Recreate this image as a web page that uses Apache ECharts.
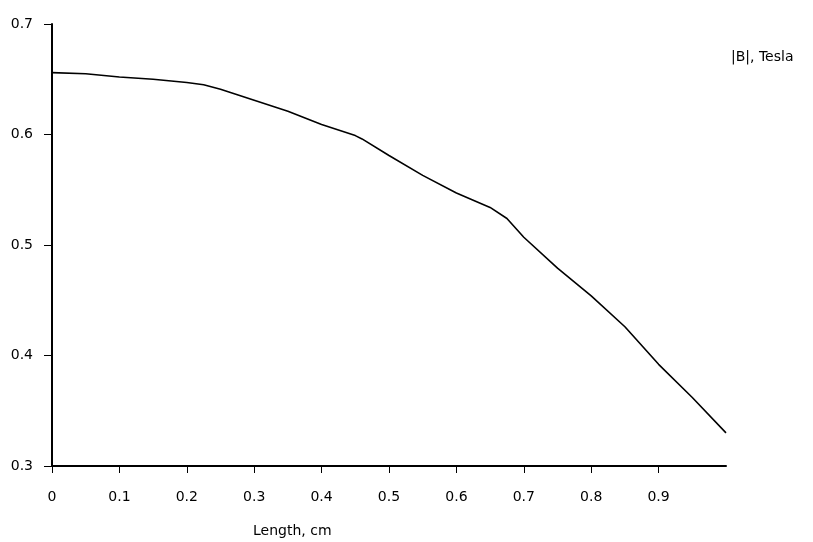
<!DOCTYPE html>
<html>
<head>
    <meta charset="utf-8">
    <script src="https://cdn.jsdelivr.net/npm/echarts@6/dist/echarts.min.js"></script>
    <style>
        html, body { margin: 0; padding: 0; background: #ffffff; }
        #chart { width: 813px; height: 542px; }
    </style>
</head>
<body>
    <div id="chart"></div>
    <script>
        // |B| along the length
        var lengthCm = [0, 0.05, 0.1, 0.15, 0.2, 0.225, 0.25, 0.3, 0.35, 0.4, 0.45, 0.46,
            0.5, 0.55, 0.6, 0.65, 0.675, 0.7, 0.75, 0.8, 0.85, 0.9, 0.95, 1.0];
        var fieldTesla = [0.656, 0.655, 0.652, 0.650, 0.647, 0.645, 0.641, 0.631, 0.621, 0.609, 0.599, 0.596,
            0.581, 0.563, 0.547, 0.534, 0.524, 0.507, 0.479, 0.454, 0.426, 0.392, 0.362, 0.330];
        var xTicks = [0, 0.1, 0.2, 0.3, 0.4, 0.5, 0.6, 0.7, 0.8, 0.9];
        var yTicks = [0.3, 0.4, 0.5, 0.6, 0.7];

        var font = 'DejaVu Sans';
        var points = lengthCm.map(function (x, i) { return [x, fieldTesla[i]]; });

        var chart = echarts.init(document.getElementById('chart'));
        chart.setOption({
            animation: false,
            backgroundColor: '#ffffff',
            grid: { left: 52, right: 87, top: 24, bottom: 76 },
            xAxis: {
                type: 'value',
                min: 0,
                max: 1,
                splitLine: { show: false },
                axisLine: { lineStyle: { color: '#000', width: 2 } },
                axisTick: { length: 7, lineStyle: { color: '#000', width: 1 }, customValues: xTicks },
                axisLabel: {
                    customValues: xTicks, margin: 24, color: '#000',
                    fontFamily: font, fontSize: 14,
                    formatter: function (v) { return v === 0 ? '0' : v.toFixed(1); }
                }
            },
            yAxis: {
                type: 'value',
                min: 0.3,
                max: 0.7,
                splitLine: { show: false },
                axisLine: { show: true, lineStyle: { color: '#000', width: 2 } },
                axisTick: { show: true, length: 8, lineStyle: { color: '#000', width: 1 }, customValues: yTicks },
                axisLabel: {
                    customValues: yTicks, margin: 19, color: '#000',
                    fontFamily: font, fontSize: 14,
                    formatter: function (v) { return v.toFixed(1); }
                }
            },
            graphic: [
                { type: 'text', left: 253, top: 524, style: { text: 'Length, cm', fontFamily: font, fontSize: 14, fill: '#000' } },
                { type: 'text', left: 731, top: 50, style: { text: '|B|, Tesla', fontFamily: font, fontSize: 14, fill: '#000' } }
            ],
            series: [{
                type: 'line',
                data: points,
                showSymbol: false,
                smooth: false,
                lineStyle: { color: '#000', width: 1.6 }
            }]
        });
    </script>
</body>
</html>
